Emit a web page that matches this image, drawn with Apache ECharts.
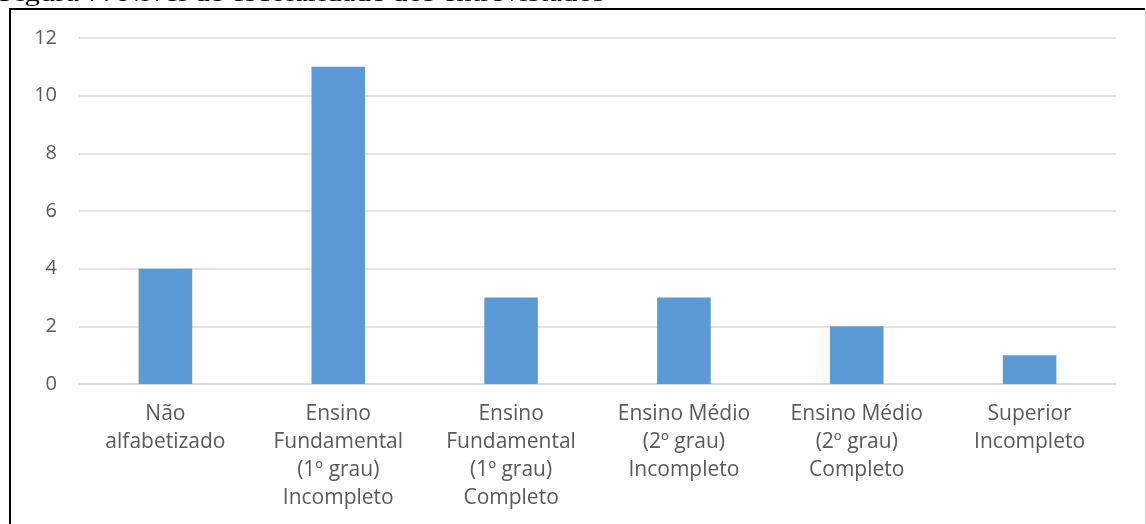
<!DOCTYPE html>
<html>
<head>
<meta charset="utf-8">
<script src="https://cdn.jsdelivr.net/npm/echarts@6/dist/echarts.min.js"></script>
<style>
  html, body { margin: 0; padding: 0; background: #fff; }
  #chart { width: 1146px; height: 524px; }
</style>
</head>
<body>
<div id="chart"></div>
<script>
// Education level of respondents
const categories = [
  'Não\nalfabetizado',
  'Ensino\nFundamental\n(1º grau)\nIncompleto',
  'Ensino\nFundamental\n(1º grau)\nCompleto',
  'Ensino Médio\n(2º grau)\nIncompleto',
  'Ensino Médio\n(2º grau)\nCompleto',
  'Superior\nIncompleto'
];
const respondents = [4, 11, 3, 3, 2, 1];
const yTicks = { min: 0, max: 12, interval: 2 };
const caption = 'Figura 7: Nível de escolaridade dos entrevistados';

const chart = echarts.init(document.getElementById('chart'));
const labelFont = '"Open Sans", "Noto Sans", sans-serif';

chart.setOption({
  animation: false,
  grid: { left: 79, right: 30, top: 38, bottom: 140 },
  xAxis: {
    type: 'category',
    data: categories,
    axisLine: { show: true, lineStyle: { color: '#D9D9D9', width: 1.5 } },
    axisTick: { show: false },
    axisLabel: {
      interval: 0,
      margin: 16,
      color: '#595959',
      fontFamily: labelFont,
      fontSize: 21,
      lineHeight: 28
    }
  },
  yAxis: {
    type: 'value',
    min: yTicks.min,
    max: yTicks.max,
    interval: yTicks.interval,
    axisLine: { show: false },
    axisTick: { show: false },
    splitLine: { lineStyle: { color: '#D9D9D9', width: 1.5 } },
    axisLabel: {
      margin: 22,
      color: '#595959',
      fontFamily: labelFont,
      fontSize: 20
    }
  },
  series: [{
    type: 'bar',
    data: respondents,
    barWidth: '31%',
    itemStyle: { color: '#5B9BD5' }
  }],
  graphic: [
    {
      type: 'text',
      x: -1,
      y: -17,
      scaleX: 1.28,
      style: {
        text: caption,
        fill: '#000',
        font: '24px "Liberation Serif", serif',
        verticalAlign: 'top'
      }
    },
    {
      type: 'line',
      shape: { x1: 10, y1: 9, x2: 1145, y2: 9 },
      style: { stroke: '#000', lineWidth: 2 }
    },
    {
      type: 'line',
      shape: { x1: 10, y1: 8, x2: 10, y2: 524 },
      style: { stroke: '#000', lineWidth: 2 }
    },
    {
      type: 'line',
      shape: { x1: 1145.5, y1: 10, x2: 1145.5, y2: 524 },
      style: { stroke: '#D0D0D0', lineWidth: 1 }
    }
  ]
});
</script>
</body>
</html>
